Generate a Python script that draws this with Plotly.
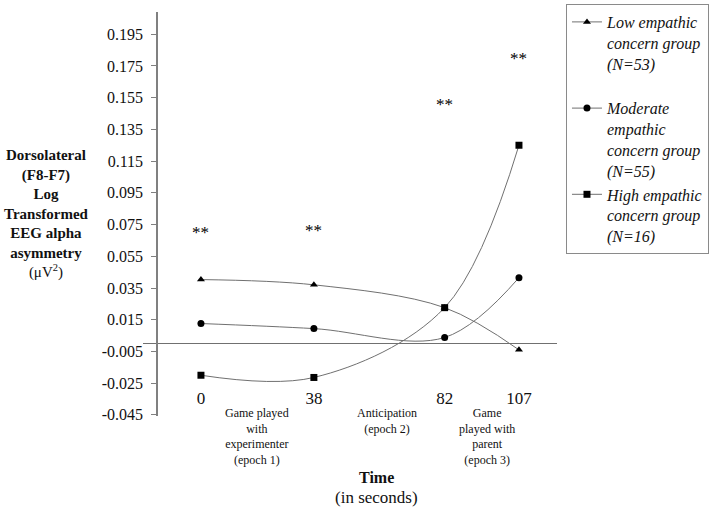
import plotly.graph_objects as go

# ---- data ----
time_s = [0, 38, 82, 107]
low_vals = [0.0403, 0.0370, 0.0226, -0.0040]
moderate_vals = [0.0126, 0.0094, 0.0038, 0.0415]
high_vals = [-0.0200, -0.0214, 0.0226, 0.1250]
series_names = [
    "Low empathic<br>concern group<br>(N=53)<br>&nbsp;",
    "Moderate<br>empathic<br>concern group<br>(N=55)",
    "High empathic<br>concern group<br>(N=16)",
]
series_symbols = ["triangle-up", "circle", "square"]
sig_y = [0.070, 0.071, 0.151, 0.180]
sig_text = ["**", "**", "**", "**"]
y_ticks = [-0.045, -0.025, -0.005, 0.015, 0.035, 0.055, 0.075, 0.095, 0.115, 0.135, 0.155, 0.175, 0.195]
x_tick_labels = ["0", "38", "82", "107"]
epoch_labels = [
    "Game played<br>with<br>experimenter<br>(epoch 1)",
    "Anticipation<br>(epoch 2)",
    "Game<br>played with<br>parent<br>(epoch 3)",
]
epoch_label_x = [18.8, 62.5, 96.2]

FONT = "Liberation Serif, Times New Roman, serif"
LINE_COL = "#707070"

fig = go.Figure()
for vals, name, sym in zip([low_vals, moderate_vals, high_vals], series_names, series_symbols):
    fig.add_trace(go.Scatter(
        x=time_s, y=vals, name=name, mode="lines+markers",
        line=dict(color=LINE_COL, width=1, shape="spline", smoothing=1),
        marker=dict(symbol=sym, color="black", size=7),
    ))

annotations = []
for xv, yv, t in zip(time_s, sig_y, sig_text):
    annotations.append(dict(x=xv, y=yv, xref="x", yref="y", text=t, showarrow=False,
                            font=dict(family=FONT, size=17, color="#000")))
for xv, t in zip(epoch_label_x, epoch_labels):
    annotations.append(dict(x=xv, y=0.030, xref="x", yref="paper", text=t, showarrow=False,
                            xanchor="center", yanchor="top",
                            font=dict(family=FONT, size=12, color="#111")))
annotations.append(dict(x=-0.234, y=0.5, xref="paper", yref="paper",
                        text="<b>Dorsolateral<br>(F8-F7)<br>Log<br>Transformed<br>EEG alpha<br>asymmetry</b><br>(μV<sup>2</sup>)",
                        showarrow=False, xanchor="center", yanchor="middle",
                        font=dict(family=FONT, size=15, color="#111")))
annotations.append(dict(x=0.565, y=(416 - 478) / 404, xref="paper", yref="paper", text="<b>Time</b>",
                        showarrow=False, xanchor="center", yanchor="middle",
                        font=dict(family=FONT, size=16, color="#111")))
annotations.append(dict(x=0.565, y=(416 - 497) / 404, xref="paper", yref="paper", text="(in seconds)",
                        showarrow=False, xanchor="center", yanchor="middle",
                        font=dict(family=FONT, size=17, color="#111")))

fig.update_layout(
    width=714, height=509,
    margin=dict(l=143, r=157, t=12, b=93, autoexpand=False),
    paper_bgcolor="white", plot_bgcolor="white",
    font=dict(family=FONT, color="#111"),
    showlegend=True,
    legend=dict(x=1.0217, y=1.0198, xanchor="left", yanchor="top",
                bordercolor="#8a8a8a", borderwidth=1, bgcolor="white",
                valign="top", font=dict(family=FONT, size=16, style="italic", color="#111")),
    xaxis=dict(range=[-19.5, 119.8], tickvals=time_s, ticktext=x_tick_labels,
               showgrid=False, zeroline=False, showline=False, ticks="",
               anchor="free", position=0.074,
               tickfont=dict(family=FONT, size=17, color="#111")),
    yaxis=dict(range=[-0.0457, 0.209], tickvals=y_ticks, ticktext=[f"{v:.3f}" for v in y_ticks],
               showgrid=False, zeroline=True, zerolinecolor=LINE_COL, zerolinewidth=1,
               showline=True, linecolor="#808080", linewidth=1.5,
               ticks="outside", ticklen=5, tickcolor="#808080", ticklabelstandoff=5,
               anchor="free", position=(157 - 143) / 414,
               tickfont=dict(family=FONT, size=16, color="#111")),
    annotations=annotations,
)

fig.write_html("out.html", config={"displayModeBar": False},
               post_script="document.body.style.margin='0';document.body.style.overflow='hidden';")
